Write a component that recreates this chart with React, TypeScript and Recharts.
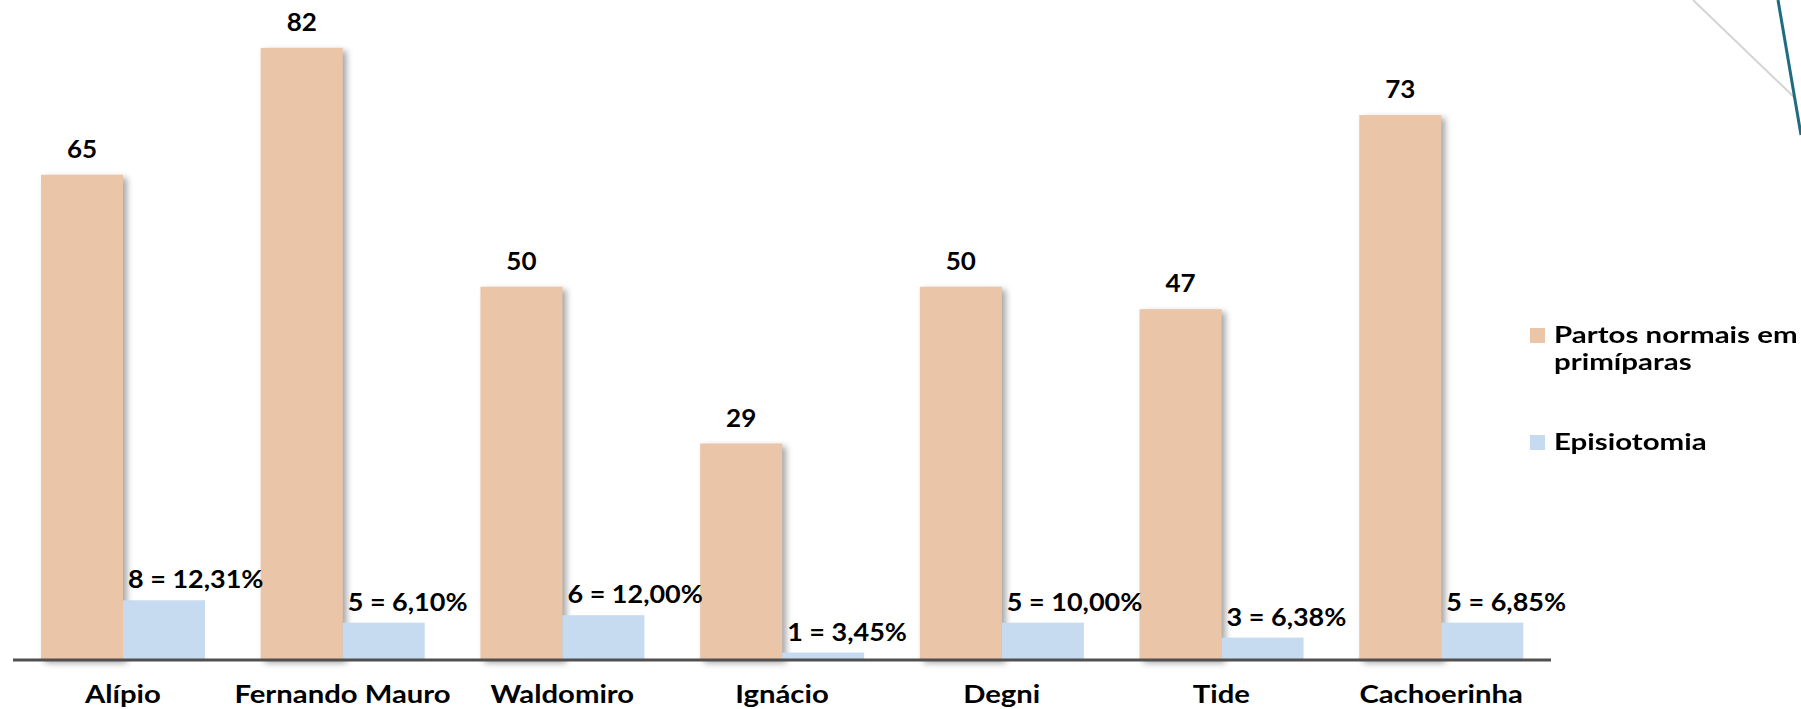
import React from "react";
import { BarChart, Bar, XAxis, YAxis, LabelList } from "recharts";

const hospitals = ["Alípio", "Fernando Mauro", "Waldomiro", "Ignácio", "Degni", "Tide", "Cachoerinha"];
const partosNormais = [65, 82, 50, 29, 50, 47, 73];
const episiotomias = [8, 5, 6, 1, 5, 3, 5];

const PEACH = "#ebc5a8";
const BLUE = "#c6daf0";
const FONT = "Lato, 'Open Sans', sans-serif";

// "8 = 12,31%" style label, comma as decimal separator
function episioLabel(n: number, total: number): string {
  return `${n} = ${((n / total) * 100).toFixed(2).replace(".", ",")}%`;
}

const data = hospitals.map((name, i) => ({
  name,
  partos: partosNormais[i],
  episio: episiotomias[i],
  episioText: episioLabel(episiotomias[i], partosNormais[i]),
}));

// the original text is a bit wider than Lato, so stretch it horizontally
function WideText({ x, y, anchor, size, stretch, children }: any) {
  return (
    <text
      transform={`translate(${x},${y}) scale(${stretch},1)`}
      textAnchor={anchor}
      fill="#000"
      fontFamily={FONT}
      fontWeight={700}
      fontSize={size}
    >
      {children}
    </text>
  );
}

function ShadowRect(props: any) {
  const { x, y, width, height, fill } = props;
  return (
    <rect
      x={x}
      y={y}
      width={width}
      height={height}
      fill={fill}
      style={{ filter: "drop-shadow(4px 3px 3px rgba(0,0,0,0.35))" }}
    />
  );
}

function PlainRect(props: any) {
  const { x, y, width, height, fill } = props;
  return <rect x={x} y={y} width={width} height={height} fill={fill} />;
}

function CategoryTick(props: any) {
  const { x, y, payload } = props;
  return (
    <WideText x={x} y={y + 43} anchor="middle" size={24} stretch={1.22}>
      {payload.value}
    </WideText>
  );
}

function TopLabel(props: any) {
  const { x, y, width, value } = props;
  return (
    <WideText x={x + width / 2} y={y - 17} anchor="middle" size={25} stretch={1.04}>
      {value}
    </WideText>
  );
}

function EpisioLabel(props: any) {
  const { x, y, value } = props;
  return (
    <WideText x={x + 5} y={y - 12} anchor="start" size={25} stretch={1.08}>
      {value}
    </WideText>
  );
}

function LegendBox() {
  const square = (color: string) => (
    <span style={{ display: "inline-block", width: 15, height: 15, background: color, marginTop: 7, flexShrink: 0 }} />
  );
  const row: React.CSSProperties = { display: "flex", alignItems: "flex-start", gap: 9 };
  const txt: React.CSSProperties = {
    fontFamily: FONT,
    fontWeight: 700,
    fontSize: 23,
    lineHeight: "27px",
    color: "#000",
    whiteSpace: "nowrap",
    transform: "scaleX(1.28)",
    transformOrigin: "left center",
  };
  return (
    <div style={{ position: "absolute", left: 1530, top: 321, width: 271 }}>
      <div style={row}>
        {square(PEACH)}
        <span style={txt}>
          Partos normais em
          <br />
          primíparas
        </span>
      </div>
      <div style={{ ...row, marginTop: 53 }}>
        {square(BLUE)}
        <span style={txt}>Episiotomia</span>
      </div>
    </div>
  );
}

export default function App() {
  return (
    <div style={{ position: "absolute", left: 0, top: 0, width: 1801, height: 709, background: "#fff", overflow: "hidden" }}>
      <BarChart
        width={1801}
        height={709}
        data={data}
        margin={{ top: 18, right: 250, left: 13, bottom: 0 }}
        barGap={0}
        barSize={82}
      >
        <XAxis
          dataKey="name"
          height={49}
          tickLine={false}
          tickSize={0}
          tickMargin={0}
          axisLine={{ stroke: "#505050", strokeWidth: 3 }}
          tick={<CategoryTick />}
          interval={0}
        />
        <YAxis hide domain={[0, 86]} />
        <Bar dataKey="partos" name="Partos normais em primíparas" fill={PEACH} shape={<ShadowRect />} isAnimationActive={false}>
          <LabelList dataKey="partos" content={<TopLabel />} />
        </Bar>
        <Bar dataKey="episio" name="Episiotomia" fill={BLUE} shape={<PlainRect />} isAnimationActive={false}>
          <LabelList dataKey="episioText" content={<EpisioLabel />} />
        </Bar>
      </BarChart>
      <LegendBox />
      {/* slide decoration in the top right corner */}
      <svg width={1801} height={709} style={{ position: "absolute", left: 0, top: 0, pointerEvents: "none" }}>
        <line x1={1693} y1={0} x2={1796} y2={99} stroke="#d4d4d4" strokeWidth={2} />
        <line x1={1778} y1={0} x2={1801} y2={135} stroke="#1f6b80" strokeWidth={3} />
      </svg>
    </div>
  );
}
